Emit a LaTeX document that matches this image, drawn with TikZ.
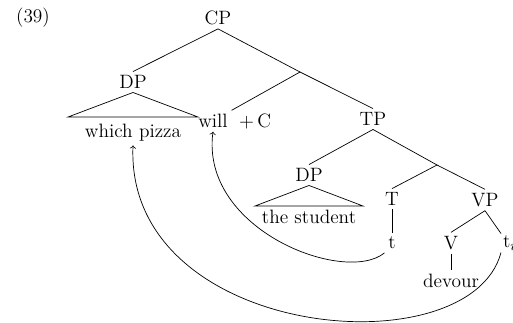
\documentclass[tikz,border=0pt]{standalone}

\begin{document}
\begin{tikzpicture}[x=0.02cm, y=-0.02cm, every node/.style={font=\fontsize{11}{13}\selectfont, inner sep=2pt}]

    \useasboundingbox (0,0) rectangle (513,322);

    % example number
    \node (ex) at (33,18) {(39)};

    % CP and the DP in its specifier
    \node (CP) at (218,18) {CP};
    \coordinate (Cbar) at (300,72);
    \node (DPa) at (133,82) {DP};
    \node (pizza) at (133,133) {which pizza};
    \draw (CP.south) -- (DPa.north);
    \draw (DPa.south) -- (68,117) -- (198,117) -- cycle;

    % C head
    \node (will) at (213,121) {will};
    \node (plusC) at (255,121) {$+$\,C};
    \draw (CP.south) -- (Cbar);
    \draw (Cbar) -- (will.north east);

    % TP
    \node (TP) at (373,119) {TP};
    \coordinate (Tbar) at (437,165);
    \draw (Cbar) -- (TP.north);

    % subject DP
    \node (DPb) at (309,175) {DP};
    \node (student) at (309,217) {the student};
    \draw (TP.south) -- (DPb.north);
    \draw (DPb.south) -- (255,206) -- (363,206) -- cycle;

    % T
    \node (T) at (392,199) {T};
    \node (t) at (392,243) {t};
    \draw (TP.south) -- (Tbar);
    \draw (Tbar) -- (T.north);
    \draw (T.south) -- (t.north);

    % VP
    \node (VP) at (485,200) {VP};
    \node (V) at (451,243) {V};
    \node (devour) at (451,281) {devour};
    \node[anchor=west, inner sep=1pt] (ti) at (501,243) {t$_i$};
    \draw (Tbar) -- (VP.north);
    \draw (VP.south) -- (V.north);
    \draw (VP.south) -- (ti.north west);
    \draw (V.south) -- (devour.north);

    % movement arrows
    \draw[->] (t.south west) .. controls (345,285) and (200,230) .. (will.south);
    \draw[->] (ti.south west) .. controls (470,370) and (125,340) .. (pizza.south);

\end{tikzpicture}
\end{document}
